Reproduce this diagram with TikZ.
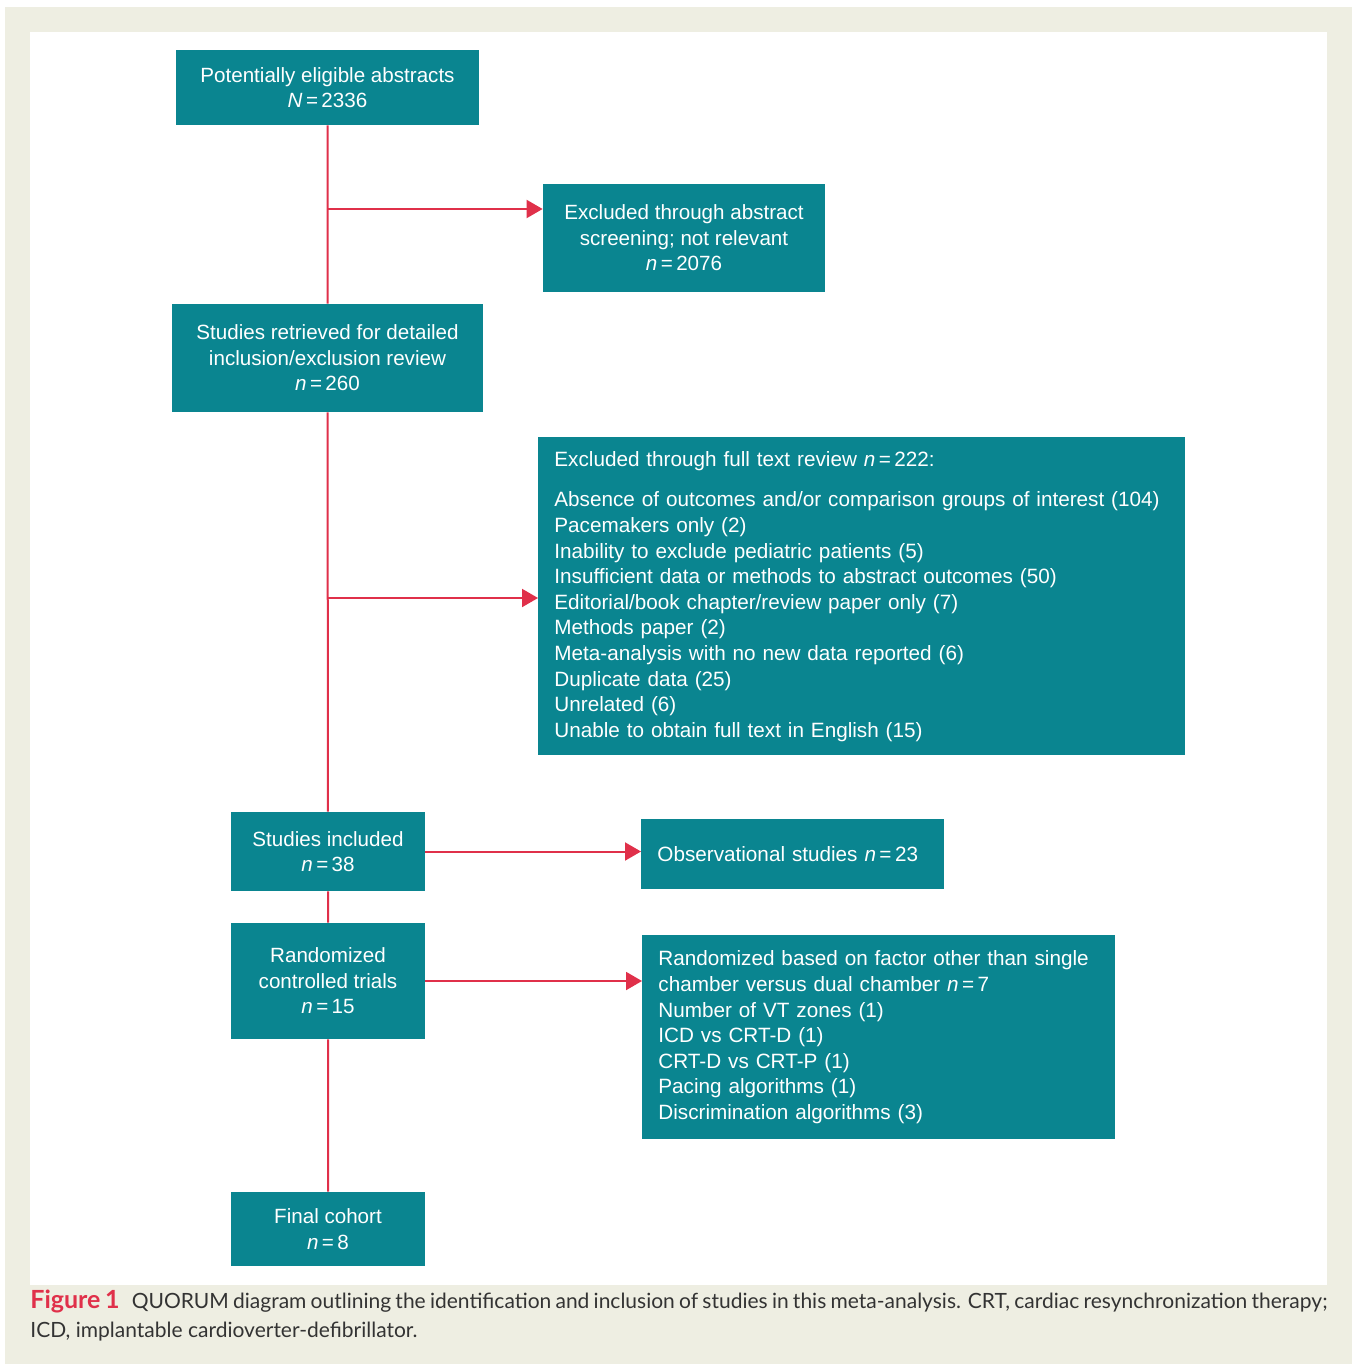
\documentclass[tikz,border=0pt]{standalone}
\usepackage{fontspec}
\setmainfont{Liberation Sans}
\newfontfamily\capfont{Lato}
\usetikzlibrary{arrows.meta}
\definecolor{boxteal}{HTML}{0A8590}
\definecolor{linered}{HTML}{E0304A}
\definecolor{pagebeige}{HTML}{EEEEE2}
\definecolor{captext}{HTML}{333333}
\newcommand{\nis}[1]{\textit{n}\,=\,#1}
\tikzset{
  stagebox/.style={fill=boxteal,text=white,align=center,inner sep=0pt,
    font=\fontsize{10.3}{12.8}\selectfont},
  listbox/.style={fill=boxteal,text=white,align=left,inner xsep=8pt,inner ysep=0pt,
    font=\fontsize{10.35}{12.8}\selectfont},
  trunk/.style={draw=linered,line width=1pt},
  branch/.style={draw=linered,line width=1pt,-{Triangle[length=8pt,width=9pt]}}
}
\begin{document}
\begin{tikzpicture}[x=0.5pt,y=-0.5pt]
\useasboundingbox (0,0) rectangle (1352,1364);
\fill[white] (0,0) rectangle (1352,1364);
\fill[pagebeige] (5,7) rectangle (1352,1364);
\fill[white] (30,32) rectangle (1327,1285);
% stages down the left
\node [stagebox,minimum width=151.5pt,minimum height=37.5pt] (pot) at (327.5,87.5) {Potentially eligible abstracts\\\textit{N}\,=\,2336};
\node [stagebox,minimum width=155.5pt,minimum height=54pt] (ret) at (327.5,358) {Studies retrieved for detailed\\inclusion/exclusion review\\\nis{260}};
\node [stagebox,minimum width=97pt,minimum height=39.5pt] (inc) at (328,851.5) {Studies included\\\nis{38}};
\node [stagebox,minimum width=97pt,minimum height=58pt] (rct) at (328,981) {Randomized\\controlled trials\\\nis{15}};
\node [stagebox,minimum width=97pt,minimum height=37pt] (fin) at (328,1229) {Final cohort\\\nis{8}};
% exclusions on the right
\node [stagebox,minimum width=141pt,minimum height=54pt] (exa) at (684,238) {Excluded through abstract\\screening; not relevant\\\nis{2076}};
\node [listbox,text width=307.5pt,minimum height=159pt,anchor=north west] (exf) at (538,437) {Excluded through full text review \nis{222}:\\[7.5pt]
Absence of outcomes and/or comparison groups of interest (104)\\
Pacemakers only (2)\\
Inability to exclude pediatric patients (5)\\
Insufficient data or methods to abstract outcomes (50)\\
Editorial/book chapter/review paper only (7)\\
Methods paper (2)\\
Meta-analysis with no new data reported (6)\\
Duplicate data (25)\\
Unrelated (6)\\
Unable to obtain full text in English (15)};
\node [listbox,text width=135.5pt,minimum height=35pt,anchor=north west] (obs) at (641,819) {Observational studies \nis{23}};
\node [listbox,text width=220.5pt,minimum height=102pt,anchor=north west] (oth) at (642,935) {Randomized based on factor other than single\\
chamber versus dual chamber \nis{7}\\
Number of VT zones (1)\\
ICD vs CRT-D (1)\\
CRT-D vs CRT-P (1)\\
Pacing algorithms (1)\\
Discrimination algorithms (3)};
% connectors
\coordinate (b1) at (328,209);
\coordinate (b2) at (328,598);
\draw[trunk] (pot) -- (ret) -- (inc) -- (rct) -- (fin);
\draw[branch] (b1) -- (b1 -| exa.west);
\draw[branch] (b2) -- (b2 -| exf.west);
\draw[branch] (inc.east) -- (inc.east -| obs.west);
\draw[branch] (rct.east) -- (rct.east -| oth.west);
% caption
\node [anchor=north west,text width=648.5pt,align=justify,inner sep=0pt,text=captext,
  font=\capfont\fontsize{10.5}{14.5}\selectfont] (cap) at (30,1290)
  {{\color{linered}\fontsize{12.5}{14.5}\selectfont\bfseries Figure 1}\hspace{6pt}QUORUM diagram outlining the identification and inclusion of studies in this meta-analysis. CRT, cardiac resynchronization therapy; ICD, implantable cardioverter-defibrillator.};
\end{tikzpicture}
\end{document}
